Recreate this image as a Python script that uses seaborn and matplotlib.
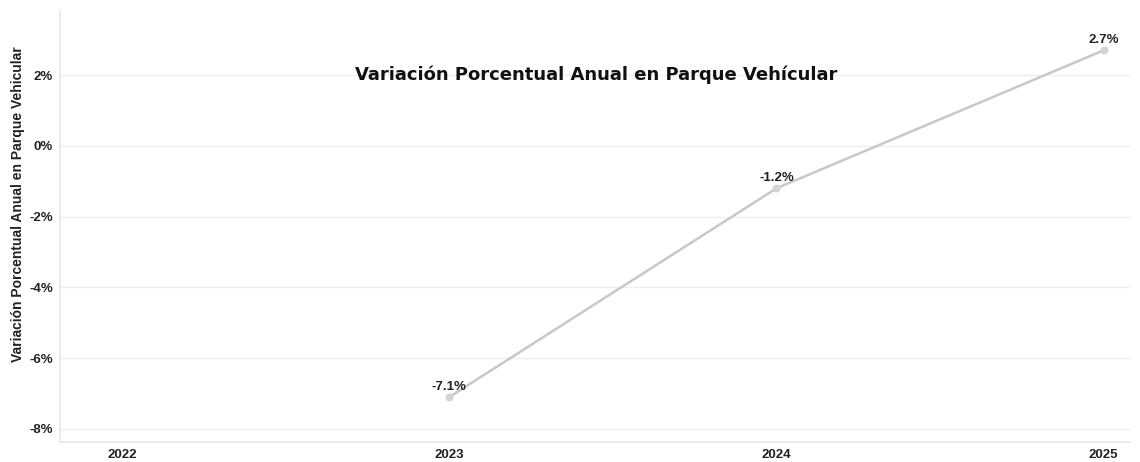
import pandas as pd
import numpy as np
from matplotlib import pyplot as plt
import seaborn as sns

years = ['2022', '2023', '2024', '2025']
variacion = [np.nan, -7.1, -1.2, 2.7]
yticks = [-8, -6, -4, -2, 0, 2]

df = pd.DataFrame({'pos': range(len(years)), 'year': years, 'var': variacion})

sns.set_style('white')
plt.rcParams['font.family'] = ['Liberation Sans', 'DejaVu Sans']

fig = plt.figure(figsize=(11.4, 4.62), dpi=100)
ax = fig.add_axes([0.0526, 0.0433, 0.9384, 0.935])

sns.lineplot(data=df.dropna(), x='pos', y='var', ax=ax, color='#c8c8c8', linewidth=1.8,
             marker='o', markersize=5, markeredgecolor='#d4d4d4', markerfacecolor='#d4d4d4')

for _, r in df.dropna().iterrows():
    ax.annotate(f"{r['var']:.1f}%", (r['pos'], r['var']), xytext=(0, 3), textcoords='offset points',
                ha='center', va='bottom', fontsize=9.5, fontweight='bold', color='#222222')

ax.set_xlim(-0.19, 3.08)
ax.set_ylim(-8.37, 3.84)
ax.set_xticks(range(len(years)))
ax.set_xticklabels(years)
ax.set_yticks(yticks)
ax.set_yticklabels([f'{t}%' for t in yticks])
ax.tick_params(axis='both', length=0, labelsize=9.5, colors='#222222', pad=5)
for lab in ax.get_xticklabels() + ax.get_yticklabels():
    lab.set_fontweight('bold')

ax.yaxis.grid(True, color='#eeeeee', linewidth=1)
ax.set_axisbelow(True)
for s in ['top', 'right']:
    ax.spines[s].set_visible(False)
for s in ['left', 'bottom']:
    ax.spines[s].set_color('#e6e6e6')
    ax.spines[s].set_linewidth(1.2)

ax.set_xlabel('')
ax.set_ylabel('Variación Porcentual Anual en Parque Vehicular', fontsize=10, fontweight='bold',
              color='#222222')
ax.yaxis.set_label_coords(-0.033, 0.55)

fig.text(0.523, 0.838, 'Variación Porcentual Anual en Parque Vehícular', ha='center', va='center',
         fontsize=13, fontweight='bold', family=['DejaVu Sans'], color='#111111')

fig.savefig('out.png', dpi=100, facecolor='white')
